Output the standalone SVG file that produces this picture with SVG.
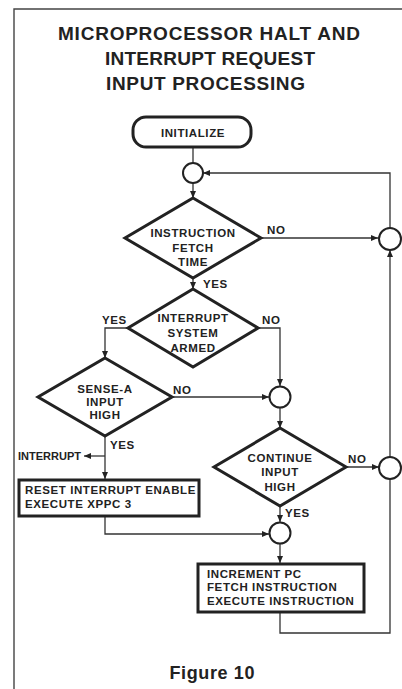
<svg xmlns="http://www.w3.org/2000/svg" width="402" height="689" viewBox="0 0 402 689">
<defs>
<marker id="ah" markerUnits="userSpaceOnUse" markerWidth="8" markerHeight="6" refX="7" refY="3" orient="auto">
<path d="M0,0 L7,3 L0,6 Z" fill="#222"/>
</marker>
<style>
.t{font-family:"Liberation Sans",Arial,sans-serif;font-weight:bold;fill:#222}
.s{font-size:11.5px;letter-spacing:0.6px}
.c{text-anchor:middle}
.sh{fill:#fff;stroke:#222;stroke-width:3}
.ci{fill:#fff;stroke:#222;stroke-width:2}
.ln{fill:none;stroke:#333;stroke-width:1.3}
.ar{marker-end:url(#ah)}
</style>
</defs>
<rect width="402" height="689" fill="#fff"/>
<path d="M402,9 H14 V689" fill="none" stroke="#444" stroke-width="1.4"/>
<g id="title" class="t">
<text x="209" y="40" class="c" font-size="19" textLength="302" lengthAdjust="spacing">MICROPROCESSOR HALT AND</text>
<text x="210" y="65" class="c" font-size="19" textLength="210" lengthAdjust="spacing">INTERRUPT REQUEST</text>
<text x="205.5" y="90" class="c" font-size="19" textLength="199" lengthAdjust="spacing">INPUT PROCESSING</text>
</g>
<g id="connectors">
<path class="ln" d="M193,147 V163"/>
<path class="ln ar" d="M193,183 V198"/>
<path class="ln ar" d="M261,238 H378"/>
<path class="ln ar" d="M390,228 V173 H203"/>
<path class="ln ar" d="M390,457 V250"/>
<path class="ln ar" d="M193,278 V289"/>
<path class="ln ar" d="M128,328 H105 V358"/>
<path class="ln ar" d="M258,328 H280 V386"/>
<path class="ln ar" d="M172,397 H269"/>
<path class="ln ar" d="M280,408 V428"/>
<path class="ln ar" d="M105,436 V479"/>
<path class="ln ar" d="M105,456 H84"/>
<path class="ln ar" d="M345,467 H379"/>
<path class="ln ar" d="M280,506 V522"/>
<path class="ln ar" d="M105,517 V534 H269"/>
<path class="ln ar" d="M280,544 V563"/>
<path class="ln" d="M280,613 V633 H390 V479"/>
</g>
<g id="initialize">
<rect class="sh" x="133" y="117" width="118" height="30" rx="13" stroke-width="2.6"/>
<text class="t s c" x="193" y="137">INITIALIZE</text>
</g>
<g id="junction1"><circle class="ci" cx="193" cy="173" r="10"/></g>
<g id="junction-right1"><circle class="ci" cx="390" cy="239" r="11"/></g>
<g id="junction-mid"><circle class="ci" cx="280" cy="397" r="10.5"/></g>
<g id="junction-right2"><circle class="ci" cx="390" cy="468" r="11"/></g>
<g id="junction-bottom"><circle class="ci" cx="280" cy="533" r="10.5"/></g>
<g id="fetch-time">
<polygon class="sh" points="193,198 261,238 193,278 125,238"/>
<text class="t s c" x="193" y="237">INSTRUCTION</text>
<text class="t s c" x="193" y="252">FETCH</text>
<text class="t s c" x="193" y="266">TIME</text>
</g>
<g id="interrupt-armed">
<polygon class="sh" points="193,289 258,328 193,367 128,328"/>
<text class="t s c" x="193" y="322">INTERRUPT</text>
<text class="t s c" x="193" y="337">SYSTEM</text>
<text class="t s c" x="193" y="352">ARMED</text>
</g>
<g id="sense-a">
<polygon class="sh" points="105,358 172,397 105,436 38,397"/>
<text class="t s c" x="105" y="393">SENSE-A</text>
<text class="t s c" x="105" y="406">INPUT</text>
<text class="t s c" x="105" y="419">HIGH</text>
</g>
<g id="continue">
<polygon class="sh" points="280,428 346,467 280,506 214,467"/>
<text class="t s c" x="280" y="462">CONTINUE</text>
<text class="t s c" x="280" y="476">INPUT</text>
<text class="t s c" x="280" y="491">HIGH</text>
</g>
<g id="reset-box">
<rect class="sh" x="19" y="480" width="180" height="36"/>
<text class="t s" x="25" y="494">RESET INTERRUPT ENABLE</text>
<text class="t s" x="25" y="508">EXECUTE XPPC 3</text>
</g>
<g id="increment-box">
<rect class="sh" x="198" y="564" width="166" height="48"/>
<text class="t s" x="207" y="578">INCREMENT PC</text>
<text class="t s" x="207" y="591">FETCH INSTRUCTION</text>
<text class="t s" x="207" y="605">EXECUTE INSTRUCTION</text>
</g>
<g id="labels" class="t s">
<text x="267" y="234">NO</text>
<text x="203" y="288">YES</text>
<text x="102" y="324">YES</text>
<text x="262" y="324">NO</text>
<text x="173" y="394">NO</text>
<text x="110" y="449">YES</text>
<text x="18" y="460" font-size="11" letter-spacing="0">INTERRUPT</text>
<text x="348" y="463">NO</text>
<text x="285" y="517">YES</text>
</g>
<g id="caption">
<text class="t c" x="212" y="679" font-size="18" textLength="85" lengthAdjust="spacing">Figure 10</text>
</g>
</svg>
